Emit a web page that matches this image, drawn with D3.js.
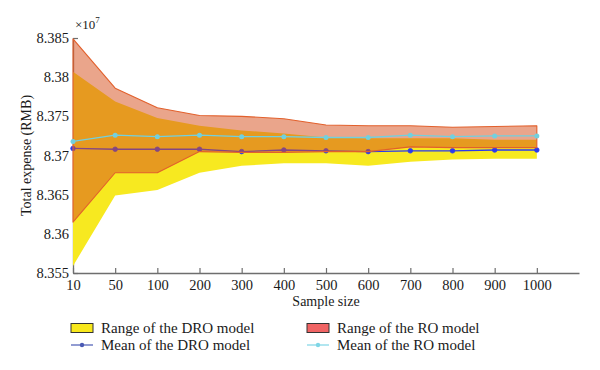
<!DOCTYPE html>
<html>
<head>
<meta charset="utf-8">
<script src="https://cdn.jsdelivr.net/npm/d3@7"></script>
<style>
  body { margin: 0; background: #fff; }
  svg { display: block; font-family: "Liberation Serif", "DejaVu Serif", serif; }
</style>
</head>
<body>
<svg id="chart"></svg>
<script>
// values are in units of 1e7 RMB
const sample_sizes = [10, 50, 100, 200, 300, 400, 500, 600, 700, 800, 900, 1000];
const dro_upper = [8.3807, 8.3769, 8.3748, 8.3738, 8.3732, 8.3728, 8.3723, 8.3722, 8.3722, 8.3722, 8.3720, 8.3720];
const dro_lower = [8.3559, 8.3649, 8.3656, 8.3678, 8.3687, 8.3690, 8.3690, 8.3687, 8.3692, 8.3695, 8.3696, 8.3696];
const ro_upper = [8.3849, 8.3786, 8.3761, 8.3751, 8.3750, 8.3747, 8.3739, 8.3738, 8.3738, 8.3736, 8.3737, 8.3738];
const ro_lower = [8.3615, 8.3678, 8.3678, 8.3705, 8.3704, 8.3704, 8.3705, 8.3705, 8.3711, 8.3710, 8.3710, 8.3710];
const dro_mean = [8.3709, 8.3708, 8.3708, 8.3708, 8.3705, 8.3707, 8.3706, 8.3705, 8.3706, 8.3706, 8.3707, 8.3707];
const ro_mean = [8.3718, 8.3726, 8.3724, 8.3726, 8.3724, 8.3724, 8.3723, 8.3723, 8.3726, 8.3724, 8.3725, 8.3725];
const y_ticks = [8.355, 8.36, 8.365, 8.37, 8.375, 8.38, 8.385];

const width = 600, height = 370;
const margin = {top: 38, right: 21, bottom: 97, left: 73};
const inner_width = width - margin.left - margin.right;
const inner_height = height - margin.top - margin.bottom;

const svg = d3.select('#chart')
    .attr('width', width)
    .attr('height', height);

const chart = svg.append('g')
    .attr('transform', `translate(${margin.left}, ${margin.top})`);

// one empty slot after 1000, the axis runs on past the last point
const xscale = d3.scaleLinear()
    .domain([0, sample_sizes.length])
    .range([0, inner_width]);

const yscale = d3.scaleLinear()
    .domain([8.355, 8.385])
    .range([inner_height, 0]);

const axis_color = '#6e6e6e';

const xaxis = d3.axisBottom(xscale)
    .tickValues(d3.range(sample_sizes.length))
    .tickFormat(i => sample_sizes[i])
    .tickSize(-5)
    .tickSizeOuter(0)
    .tickPadding(7);

const yaxis = d3.axisLeft(yscale)
    .tickValues(y_ticks)
    .tickFormat(d => String(+d.toFixed(3)))
    .tickSize(-5)
    .tickSizeOuter(0)
    .tickPadding(4);

const xaxis_group = chart.append('g')
    .attr('transform', `translate(0, ${inner_height})`)
    .call(xaxis);

const yaxis_group = chart.append('g')
    .call(yaxis);

[xaxis_group, yaxis_group].forEach(g => {
    g.select('.domain').attr('stroke', axis_color).attr('stroke-width', 1.3);
    g.selectAll('.tick line').attr('stroke', axis_color).attr('stroke-width', 1.2);
    g.selectAll('.tick text')
        .attr('fill', '#1a1a1a')
        .style('font-size', '14.5px')
        .style('font-family', '"Liberation Serif", "DejaVu Serif", serif');
});

const idx = d3.range(sample_sizes.length);

const area = (lo, hi) => d3.area()
    .x(i => xscale(i))
    .y0(i => yscale(lo[i]))
    .y1(i => yscale(hi[i]));

const line = vals => d3.line()
    .x(i => xscale(i))
    .y(i => yscale(vals[i]));

// DRO range
chart.append('path')
    .attr('d', area(dro_lower, dro_upper)(idx))
    .attr('fill', '#f7e920')
    .attr('stroke', 'none');

// DRO mean, drawn under the RO range like the original
const dro_color = '#2a3aee';
chart.append('path')
    .attr('d', line(dro_mean)(idx))
    .attr('fill', 'none')
    .attr('stroke', dro_color)
    .attr('stroke-width', 1.3);

chart.selectAll('.dro-dot')
    .data(idx)
    .join('circle')
    .attr('class', 'dro-dot')
    .attr('cx', i => xscale(i))
    .attr('cy', i => yscale(dro_mean[i]))
    .attr('r', 2.3)
    .attr('fill', dro_color)
    .attr('stroke', dro_color)
    .attr('stroke-width', 0.8);

// RO range, half transparent
chart.append('path')
    .attr('d', area(ro_lower, ro_upper)(idx))
    .attr('fill', 'rgb(214, 83, 32)')
    .attr('fill-opacity', 0.52)
    .attr('stroke', '#e2602c')
    .attr('stroke-width', 1.1)
    .attr('stroke-linejoin', 'round');

// RO mean
const ro_color = '#72d0de';
chart.append('path')
    .attr('d', line(ro_mean)(idx))
    .attr('fill', 'none')
    .attr('stroke', ro_color)
    .attr('stroke-width', 1.3);

chart.selectAll('.ro-dot')
    .data(idx)
    .join('circle')
    .attr('class', 'ro-dot')
    .attr('cx', i => xscale(i))
    .attr('cy', i => yscale(ro_mean[i]))
    .attr('r', 2.5)
    .attr('fill', ro_color);

// axis labels
svg.append('text')
    .attr('x', margin.left + inner_width / 2)
    .attr('y', 306)
    .attr('text-anchor', 'middle')
    .style('font-size', '14px')
    .attr('fill', '#1a1a1a')
    .text('Sample size');

svg.append('text')
    .attr('transform', 'rotate(-90)')
    .attr('x', -(margin.top + inner_height / 2))
    .attr('y', 31)
    .attr('text-anchor', 'middle')
    .style('font-size', '14px')
    .attr('fill', '#1a1a1a')
    .text('Total expense (RMB)');

const expo = svg.append('text')
    .attr('x', 75)
    .attr('y', 29)
    .style('font-size', '13px')
    .attr('fill', '#1a1a1a');
expo.append('tspan').text('×10');
expo.append('tspan')
    .attr('dy', -6)
    .style('font-size', '9px')
    .text('7');

// legend
const legend = svg.append('g').style('font-size', '15px');
const legend_items = [
    {x: 71, y: 328, kind: 'box', color: '#f8e81c', label: 'Range of the DRO model'},
    {x: 307, y: 328, kind: 'box', color: '#f06464', label: 'Range of the RO model'},
    {x: 71, y: 345, kind: 'line', color: '#4a5ab4', label: 'Mean of the DRO model'},
    {x: 307, y: 345, kind: 'line', color: '#7fd6e6', label: 'Mean of the RO model'}
];

legend_items.forEach(d => {
    if (d.kind === 'box') {
        legend.append('rect')
            .attr('x', d.x)
            .attr('y', d.y - 4.5)
            .attr('width', 22)
            .attr('height', 9)
            .attr('fill', d.color)
            .attr('stroke', '#333')
            .attr('stroke-width', 1);
    } else {
        legend.append('line')
            .attr('x1', d.x)
            .attr('x2', d.x + 22)
            .attr('y1', d.y)
            .attr('y2', d.y)
            .attr('stroke', d.color)
            .attr('stroke-width', 1.2);
        legend.append('circle')
            .attr('cx', d.x + 11)
            .attr('cy', d.y)
            .attr('r', 2.2)
            .attr('fill', d.color);
    }
    legend.append('text')
        .attr('x', d.x + 30)
        .attr('y', d.y + 5)
        .attr('fill', '#1a1a1a')
        .text(d.label);
});
</script>
</body>
</html>
